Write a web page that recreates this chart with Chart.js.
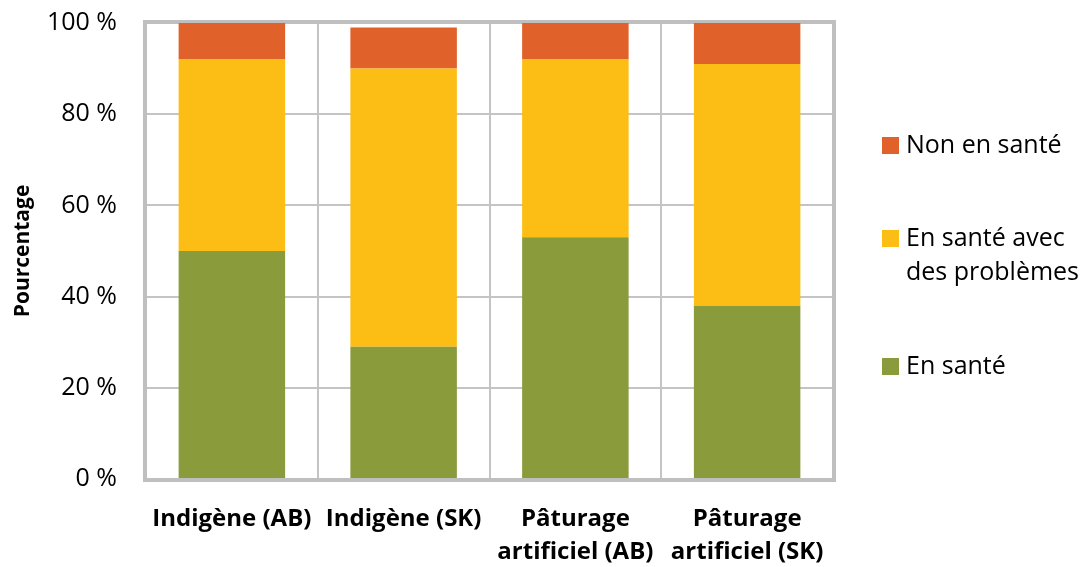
<!DOCTYPE html>
<html>
<head>
<meta charset="utf-8">
<script src="https://cdn.jsdelivr.net/npm/chart.js@4"></script>
<style>
	html, body { margin: 0; padding: 0; background: #fff; }
	#box { width: 1083px; height: 567px; position: relative; }
</style>
</head>
<body>
<div id="box"><canvas id="grafica"></canvas></div>
<script>
const categories = ['Indigène (AB)', 'Indigène (SK)', ['Pâturage', 'artificiel (AB)'], ['Pâturage', 'artificiel (SK)']];
const enSante = [50, 29, 53, 38];
const avecProblemes = [42, 61, 39, 53];
const nonEnSante = [8, 9, 8, 9];
const yTicks = [0, 20, 40, 60, 80, 100];

const police = '"Open Sans", "Noto Sans", sans-serif';

// cadre gris autour de la zone du graphique
const cadre = {
	id: 'cadre',
	beforeDatasetsDraw(chart) {
		const a = chart.chartArea;
		const c = chart.ctx;
		c.save();
		c.strokeStyle = '#bfbfbf';
		c.lineWidth = 4;
		c.strokeRect(a.left - 1, a.top - 1, a.right - a.left + 2, a.bottom - a.top + 2);
		c.restore();
	}
};

// légende à droite, dessinée à la main (étiquette sur deux lignes)
const legende = {
	id: 'legende',
	afterDraw(chart) {
		const c = chart.ctx;
		const centres = [366, 255, 145];
		c.save();
		c.font = '25px ' + police;
		c.textBaseline = 'middle';
		chart.data.datasets.forEach(function(ds, i) {
			const lignes = [].concat(ds.label);
			const y0 = centres[i] - (lignes.length - 1) * 17;
			c.fillStyle = ds.backgroundColor;
			c.fillRect(882, y0 - 8, 17, 17);
			c.fillStyle = '#000';
			lignes.forEach(function(t, j) {
				c.fillText(t, 906, y0 + j * 34 + 1);
			});
		});
		c.restore();
	}
};

new Chart(document.getElementById('grafica'), {
	type: 'bar',
	data: {
		labels: categories,
		datasets: [
			{ label: 'En santé', data: enSante, backgroundColor: '#8a9b3c' },
			{ label: ['En santé avec', 'des problèmes'], data: avecProblemes, backgroundColor: '#fcbd14' },
			{ label: 'Non en santé', data: nonEnSante, backgroundColor: '#e0622a' }
		]
	},
	options: {
		responsive: true,
		maintainAspectRatio: false,
		animation: false,
		layout: { padding: { top: 23, right: 250, left: 0, bottom: 0 } },
		datasets: { bar: { categoryPercentage: 1, barPercentage: 0.62 } },
		plugins: {
			legend: { display: false },
			tooltip: { enabled: false }
		},
		scales: {
			x: {
				stacked: true,
				grid: { color: '#c4c4c4', lineWidth: 2, drawTicks: false, offset: true },
				border: { display: false },
				ticks: {
					color: '#000',
					padding: 23,
					maxRotation: 0,
					autoSkip: false,
					font: { family: police, size: 24, weight: 'bold', lineHeight: 1.4 }
				},
				afterFit(s) {
					s.height = 88;
					s.paddingLeft = 0;
					s.paddingRight = 0;
				}
			},
			y: {
				stacked: true,
				min: 0,
				max: 100,
				afterBuildTicks(s) { s.ticks = yTicks.map(v => ({ value: v })); },
				grid: { color: '#c4c4c4', lineWidth: 2, drawTicks: false },
				border: { display: false },
				ticks: {
					color: '#000',
					padding: 29,
					font: { family: police, size: 25 },
					callback: v => v + ' %'
				},
				title: {
					display: true,
					text: 'Pourcentage',
					color: '#000',
					padding: { top: 10, bottom: 0 },
					font: { family: police, size: 21, weight: 'bold' }
				},
				afterFit(s) {
					s.width = 146;
					s.paddingTop = 0;
					s.paddingBottom = 0;
				}
			}
		}
	},
	plugins: [cadre, legende]
});
</script>
</body>
</html>
